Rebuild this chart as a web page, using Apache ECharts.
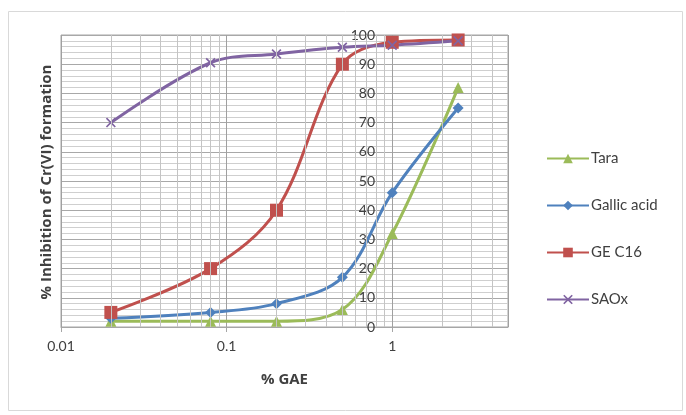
<!DOCTYPE html>
<html><head><meta charset="utf-8">
<script src="https://cdn.jsdelivr.net/npm/echarts@6/dist/echarts.min.js"></script>
<style>html,body{margin:0;padding:0;background:#fff}#c{width:686px;height:415px}</style>
</head><body><div id="c"></div>
<script>
const xValues = [0.02, 0.08, 0.2, 0.5, 1, 2.5];
const tara = [2, 2, 2, 6, 32, 82];
const gallicAcid = [3, 5, 8, 17, 46, 75];
const geC16 = [5, 20, 40, 90, 97.5, 98.3];
const saox = [70, 90.5, 93.5, 95.8, 96.5, 98];
const seriesNames = ['Tara', 'Gallic acid', 'GE C16', 'SAOx'];
const minorGridX = [0.02,0.03,0.04,0.05,0.06,0.07,0.08,0.09,0.2,0.3,0.4,0.5,0.6,0.7,0.8,0.9,2,3,4];

const font = 'Lato, "Open Sans", sans-serif';
const tfont = '"Open Sans", Lato, sans-serif';
const txt = '#404040';
const pair = arr => xValues.map((x, i) => [x, arr[i]]);
const xShape = 'path://M0,1.2L1.2,0L5,3.8L8.8,0L10,1.2L6.2,5L10,8.8L8.8,10L5,6.2L1.2,10L0,8.8L3.8,5Z';

const chart = echarts.init(document.getElementById('c'), null, {renderer: 'canvas'});
const mk = (name, data, color, symbol, size) => ({
  name, type: 'line', data: pair(data), smooth: 0.35,
  symbol, symbolSize: size,
  lineStyle: {color, width: 3},
  itemStyle: {color},
  z: 3
});
chart.setOption({
  animation: false,
  grid: {left: 61, top: 35, width: 447, height: 292, show: true, borderColor: '#a6a6a6', borderWidth: 1},
  xAxis: {
    type: 'log', logBase: 10, min: 0.01, max: 5,
    axisLine: {show: true, lineStyle: {color: '#a6a6a6'}},
    axisTick: {show: true, length: 5, lineStyle: {color: '#a6a6a6'}},
    axisLabel: {color: txt, fontSize: 14, fontFamily: font, margin: 12, showMaxLabel: false,
      formatter: v => String(Number(v.toPrecision(3)))},
    splitLine: {show: true, lineStyle: {color: '#a0a0a0', width: 1}},
    name: '% GAE', nameLocation: 'middle', nameGap: 45,
    nameTextStyle: {color: txt, fontSize: 15, fontWeight: 'bold', fontFamily: tfont}
  },
  yAxis: {
    type: 'value', min: 0, max: 100, interval: 10, position: 'left', offset: -331,
    axisLine: {show: false},
    axisTick: {show: false},
    axisLabel: {color: txt, fontSize: 14, fontFamily: font, margin: 17},
    splitLine: {show: true, lineStyle: {color: '#a8a8a8', width: 1}},
    minorTick: {show: false, splitNumber: 5},
    minorSplitLine: {show: true, lineStyle: {color: '#cfcfcf', width: 1}}
  },
  legend: {
    orient: 'vertical', left: 541, top: 146, itemWidth: 42, itemHeight: 12, itemGap: 32,
    data: seriesNames,
    textStyle: {color: txt, fontSize: 15, fontFamily: font, padding: [0,0,0,-3]}
  },
  graphic: [
    {type: 'rect', shape: {x: 8.5, y: 11.5, width: 674, height: 399}, style: {fill: 'none', stroke: '#d9d9d9', lineWidth: 1}, z: -1},
    {type: 'text', x: 47, y: 182, rotation: Math.PI / 2,
      style: {text: '% Inhibition of Cr(VI) formation', fill: txt, font: 'bold 15px ' + tfont, align: 'center', verticalAlign: 'middle'}}
  ],
  series: [
    {type: 'line', data: [], silent: true, z: 1,
      markLine: {silent: true, symbol: ['none','none'], label: {show: false},
        lineStyle: {color: '#c4c4c4', width: 1, type: 'solid'},
        data: minorGridX.map(v => ({xAxis: v}))}},
    mk('Tara', tara, '#9BBB59', 'triangle', 11),
    mk('Gallic acid', gallicAcid, '#4F81BD', 'diamond', 11),
    mk('GE C16', geC16, '#C0504D', 'rect', 13),
    mk('SAOx', saox, '#8064A2', xShape, 10)
  ]
});
</script></body></html>
